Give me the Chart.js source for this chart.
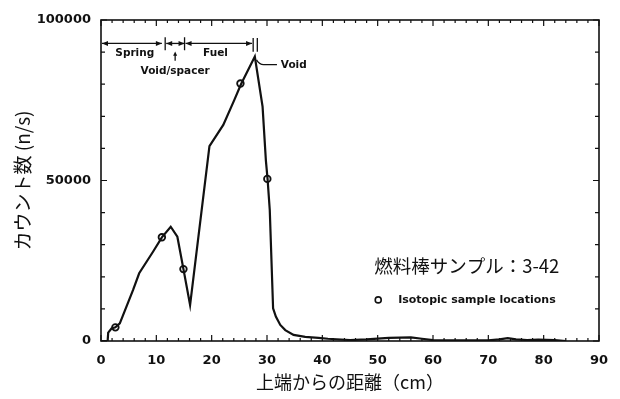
<!DOCTYPE html>
<html>
<head>
<meta charset="utf-8">
<script src="https://cdn.jsdelivr.net/npm/chart.js@4"></script>
<style>
  body { margin: 0; background: #fff; }
</style>
</head>
<body>
<canvas id="countChart" width="620" height="399"></canvas>
<script>
// distance from rod top (cm) and count rate (n/s)
const distance = [0, 1.2, 1.3, 1.9, 2.6, 3.4, 5.8, 6.9, 9.4, 11.0, 12.6, 13.8, 14.9, 16.1, 19.6, 22.1, 24.1, 25.3, 27.8,
    29.2, 29.8, 30.1, 30.5, 31.1, 31.6, 32.4, 33.3, 34.8, 36.9, 39.3, 41, 45, 48, 52, 56, 58, 60, 65, 70, 72, 73.5, 75, 77, 79, 82, 84]
const counts = [0, 0, 2600, 3900, 4250, 5500, 15900, 21100, 27800, 32300, 35600, 32500, 22400, 11200, 60700, 67300, 75100, 80000, 88600,
    73000, 56200, 50500, 40800, 10200, 7600, 5000, 3400, 1900, 1300, 1000, 700, 300, 500, 1000, 1100, 700, 300, 200, 200, 500, 900, 500, 300, 400, 300, 0]

// isotopic sample locations
const sampleDistance = [2.6, 11.0, 14.9, 25.2, 30.06]
const sampleCounts = [4250, 32300, 22400, 80200, 50500]

const xTickLabels = [0, 10, 20, 30, 40, 50, 60, 70, 80, 90]
const yTickLabels = [0, 50000, 100000]

// region markers along the top (cm)
const springEnd = 11.0
const spacerStart = 11.6
const fuelStart = 15.1
const fuelEnd = 27.3

const black = '#111'
const tickFont = { family: 'DejaVu Sans', weight: 'bold', size: 13 }
const jpFont = 'Noto Sans CJK JP'

const frameTicks = {
    id: 'frameTicks',
    afterDraw(chart) {
        const { ctx, chartArea: a, scales } = chart
        const x = scales.x, y = scales.y
        ctx.save()
        ctx.strokeStyle = black
        ctx.lineWidth = 1.6
        ctx.strokeRect(a.left, a.top, a.right - a.left, a.bottom - a.top)
        ctx.lineWidth = 1.2
        ctx.beginPath()
        for (let v = 0; v <= 90; v += 2) {
            const px = x.getPixelForValue(v)
            const len = v % 10 == 0 ? 6 : 3
            ctx.moveTo(px, a.bottom); ctx.lineTo(px, a.bottom - len)
            ctx.moveTo(px, a.top); ctx.lineTo(px, a.top + len)
        }
        for (let v = 0; v <= 100000; v += 10000) {
            const py = y.getPixelForValue(v)
            const len = v % 50000 == 0 ? 6 : 4
            ctx.moveTo(a.left, py); ctx.lineTo(a.left + len, py)
            ctx.moveTo(a.right, py); ctx.lineTo(a.right - len, py)
        }
        ctx.stroke()
        ctx.restore()
    }
}

const arrowHead = (ctx, px, py, dir) => {
    ctx.beginPath()
    ctx.moveTo(px, py)
    ctx.lineTo(px - dir * 6, py - 2.5)
    ctx.lineTo(px - dir * 6, py + 2.5)
    ctx.closePath()
    ctx.fill()
}

const annotations = {
    id: 'annotations',
    afterDraw(chart) {
        const { ctx, scales } = chart
        const X = v => scales.x.getPixelForValue(v)
        const Y = v => scales.y.getPixelForValue(v)
        ctx.save()
        ctx.strokeStyle = black
        ctx.fillStyle = black
        ctx.lineWidth = 1.3

        // region arrows
        const ay = Y(92700)
        const spans = [[0, springEnd], [spacerStart, fuelStart], [fuelStart, fuelEnd]]
        spans.forEach(([s, e]) => {
            ctx.beginPath()
            ctx.moveTo(X(s) + 1, ay); ctx.lineTo(X(e), ay)
            ctx.stroke()
            arrowHead(ctx, X(s) + 1, ay, -1)
            arrowHead(ctx, X(e), ay, 1)
        })
        ctx.beginPath()
        ;[spacerStart, fuelStart].forEach(v => {
            ctx.moveTo(X(v), Y(94600)); ctx.lineTo(X(v), Y(90600))
        })
        // void double bars
        ;[27.5, 28.25].forEach(v => {
            ctx.moveTo(X(v), Y(94400)); ctx.lineTo(X(v), Y(90100))
        })
        // spacer pointer
        ctx.moveTo(X(13.4), Y(87300)); ctx.lineTo(X(13.4), Y(89200))
        // void leader
        ctx.moveTo(X(28.1), Y(87600))
        ctx.quadraticCurveTo(X(28.6), Y(86100), X(29.4), Y(86100))
        ctx.lineTo(X(31.8), Y(86100))
        ctx.stroke()
        ctx.beginPath()
        ctx.moveTo(X(13.4), Y(90200))
        ctx.lineTo(X(13.4) - 2, Y(88900))
        ctx.lineTo(X(13.4) + 2, Y(88900))
        ctx.closePath()
        ctx.fill()

        ctx.font = 'bold 10.5px "DejaVu Sans"'
        ctx.textBaseline = 'middle'
        ctx.textAlign = 'center'
        ctx.fillText('Spring', X(6.1), Y(89600))
        ctx.fillText('Fuel', X(20.7), Y(89600))
        ctx.fillText('Void/spacer', X(13.4), Y(84100))
        ctx.textAlign = 'left'
        ctx.fillText('Void', X(32.5), Y(86000))

        // legend
        ctx.beginPath()
        ctx.arc(X(50.1), Y(12800), 3, 0, Math.PI * 2)
        ctx.lineWidth = 1.6
        ctx.stroke()
        ctx.font = 'bold 11px "DejaVu Sans"'
        ctx.fillText('Isotopic sample locations', X(53.7), Y(12800))

        ctx.font = `18.5px "${jpFont}"`
        ctx.textAlign = 'center'
        ctx.fillText('燃料棒サンプル：3-42', X(66.1), Y(23400))
        ctx.restore()
    }
}

new Chart(document.getElementById('countChart'), {
    type: 'scatter',
    data: {
        datasets: [{
            data: distance.map((d, i) => ({ x: d, y: counts[i] })),
            showLine: true,
            borderColor: black,
            borderWidth: 2.2,
            pointRadius: 0,
            tension: 0
        }, {
            data: sampleDistance.map((d, i) => ({ x: d, y: sampleCounts[i] })),
            showLine: false,
            pointRadius: 3.3,
            pointBorderWidth: 1.8,
            pointBorderColor: black,
            pointBackgroundColor: '#fff'
        }]
    },
    options: {
        responsive: false,
        animation: false,
        devicePixelRatio: 1,
        layout: { padding: { top: 20, right: 21, left: 0, bottom: 0 } },
        plugins: { legend: { display: false }, tooltip: { enabled: false } },
        scales: {
            x: {
                type: 'linear', min: 0, max: 90,
                afterFit: scale => { scale.height = 58 },
                afterBuildTicks: scale => { scale.ticks = xTickLabels.map(v => ({ value: v })) },
                ticks: { font: tickFont, color: black, padding: 4, maxRotation: 0 },
                grid: { display: false },
                border: { display: false },
                title: { display: true, text: '上端からの距離（cm）', font: { family: jpFont, size: 18 }, color: black, padding: { bottom: 6 } }
            },
            y: {
                type: 'linear', min: 0, max: 100000,
                afterFit: scale => { scale.width = 101 },
                afterBuildTicks: scale => { scale.ticks = yTickLabels.map(v => ({ value: v })) },
                ticks: { font: tickFont, color: black, padding: 2, callback: v => String(v) },
                grid: { display: false },
                border: { display: false },
                title: { display: true, text: 'カウント数 (n/s)', font: { family: jpFont, size: 19 }, color: black, padding: { top: 11 } }
            }
        }
    },
    plugins: [frameTicks, annotations]
})
</script>
</body>
</html>
